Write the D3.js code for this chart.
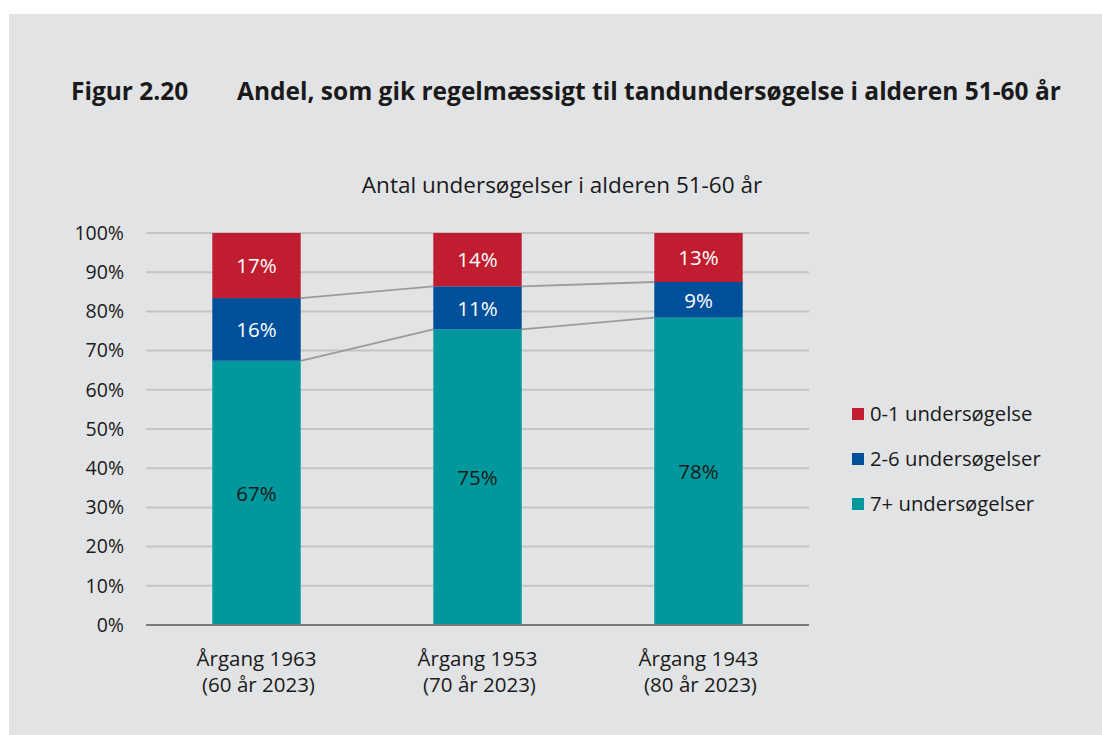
<!DOCTYPE html>
<html lang="da">
<head>
<meta charset="UTF-8">
<title>Figur 2.20</title>
<style>
  body { margin: 0; background: #fff; }
  svg { display: block; font-family: "Open Sans", "Noto Sans", sans-serif; }
</style>
</head>
<body>
<script src="https://d3js.org/d3.v7.min.js"></script>
<script>
const categories = ["Årgang 1963|(60 år 2023)", "Årgang 1953|(70 år 2023)", "Årgang 1943|(80 år 2023)"];
const seriesNames = ["7+ undersøgelser", "2-6 undersøgelser", "0-1 undersøgelse"];
const seriesColors = ["#00989c", "#004f9b", "#c01e30"];
// andele i procent, samme rækkefølge som categories
const plus7 = [67.4, 75.4, 78.4];
const two6 = [16.0, 11.0, 9.1];
const zero1 = [16.6, 13.6, 12.5];
const yTicks = [0, 10, 20, 30, 40, 50, 60, 70, 80, 90, 100];

const W = 1102, H = 735;
const svg = d3.select("body").append("svg").attr("width", W).attr("height", H);

svg.append("rect").attr("x", 9).attr("y", 14).attr("width", W - 9).attr("height", H - 14).attr("fill", "#e2e3e5");

svg.append("text").attr("x", 71).attr("y", 100).attr("font-size", 24.5).attr("font-weight", 700)
  .attr("fill", "#1a1a1a").text("Figur 2.20");
svg.append("text").attr("x", 237).attr("y", 100).attr("font-size", 24.5).attr("font-weight", 700)
  .attr("fill", "#1a1a1a").text("Andel, som gik regelmæssigt til tandundersøgelse i alderen 51-60 år");

svg.append("text").attr("x", 562).attr("y", 193).attr("text-anchor", "middle").attr("font-size", 22.5)
  .attr("fill", "#1a1a1a").text("Antal undersøgelser i alderen 51-60 år");

const x = d3.scaleBand().domain(categories).range([146, 809]).paddingInner(0.6).paddingOuter(0.3);
const y = d3.scaleLinear().domain([0, 100]).range([625, 233]);

// gitterlinjer
svg.append("g").selectAll("line").data(yTicks.filter(d => d > 0)).join("line")
  .attr("x1", 146).attr("x2", 809).attr("y1", d => y(d)).attr("y2", d => y(d))
  .attr("stroke", "#c4c4c6").attr("stroke-width", 2);

svg.append("g").selectAll("text").data(yTicks).join("text")
  .attr("x", 124).attr("y", d => y(d)).attr("dy", "0.35em").attr("text-anchor", "end")
  .attr("font-size", 19.5).attr("fill", "#1a1a1a").text(d => d + "%");

const rows = categories.map((c, i) => ({ cat: c, vals: [plus7[i], two6[i], zero1[i]] }));
const stack = d3.stack().keys([0, 1, 2]).value((d, k) => d.vals[k])(rows);

// forbindelseslinjer mellem søjler
[0, 1].forEach(k => {
  const pts = rows.slice(0, -1).map((r, i) => ({
    x1: x(r.cat) + x.bandwidth(), y1: y(stack[k][i][1]),
    x2: x(rows[i + 1].cat), y2: y(stack[k][i + 1][1])
  }));
  svg.append("g").selectAll("line").data(pts).join("line")
    .attr("x1", d => d.x1).attr("y1", d => d.y1).attr("x2", d => d.x2).attr("y2", d => d.y2)
    .attr("stroke", "#9b9b9b").attr("stroke-width", 1.8);
});

stack.forEach((s, k) => {
  const g = svg.append("g");
  g.selectAll("rect").data(s).join("rect")
    .attr("x", d => x(d.data.cat)).attr("width", x.bandwidth())
    .attr("y", d => y(d[1])).attr("height", d => y(d[0]) - y(d[1]))
    .attr("fill", seriesColors[k]);
  g.selectAll("text").data(s).join("text")
    .attr("x", d => x(d.data.cat) + x.bandwidth() / 2)
    .attr("y", d => y((d[0] + d[1]) / 2)).attr("dy", "0.38em")
    .attr("text-anchor", "middle").attr("font-size", 20.5)
    .attr("fill", k === 0 ? "#1a1a1a" : "#fff")
    .text(d => Math.round(d[1] - d[0]) + "%");
});

// x-akse
svg.append("line").attr("x1", 146).attr("x2", 809).attr("y1", y(0)).attr("y2", y(0))
  .attr("stroke", "#7a7a7a").attr("stroke-width", 2);

const xl = svg.append("g").selectAll("text").data(categories).join("text")
  .attr("text-anchor", "middle").attr("font-size", 20.5).attr("fill", "#1a1a1a");
xl.append("tspan").attr("x", d => x(d) + x.bandwidth() / 2).attr("y", 666).text(d => d.split("|")[0]);
xl.append("tspan").attr("x", d => x(d) + x.bandwidth() / 2 + 2).attr("y", 692).text(d => d.split("|")[1]);

// forklaring
const legendOrder = [2, 1, 0];
const lg = svg.append("g").selectAll("g").data(legendOrder).join("g")
  .attr("transform", (d, i) => `translate(852, ${414 + i * 45})`);
lg.append("rect").attr("x", 0).attr("y", -6).attr("width", 12).attr("height", 12)
  .attr("fill", d => seriesColors[d]);
lg.append("text").attr("x", 18).attr("y", 0).attr("dy", "0.35em").attr("font-size", 20.3)
  .attr("fill", "#1a1a1a").text(d => seriesNames[d]);
</script>
</body>
</html>
